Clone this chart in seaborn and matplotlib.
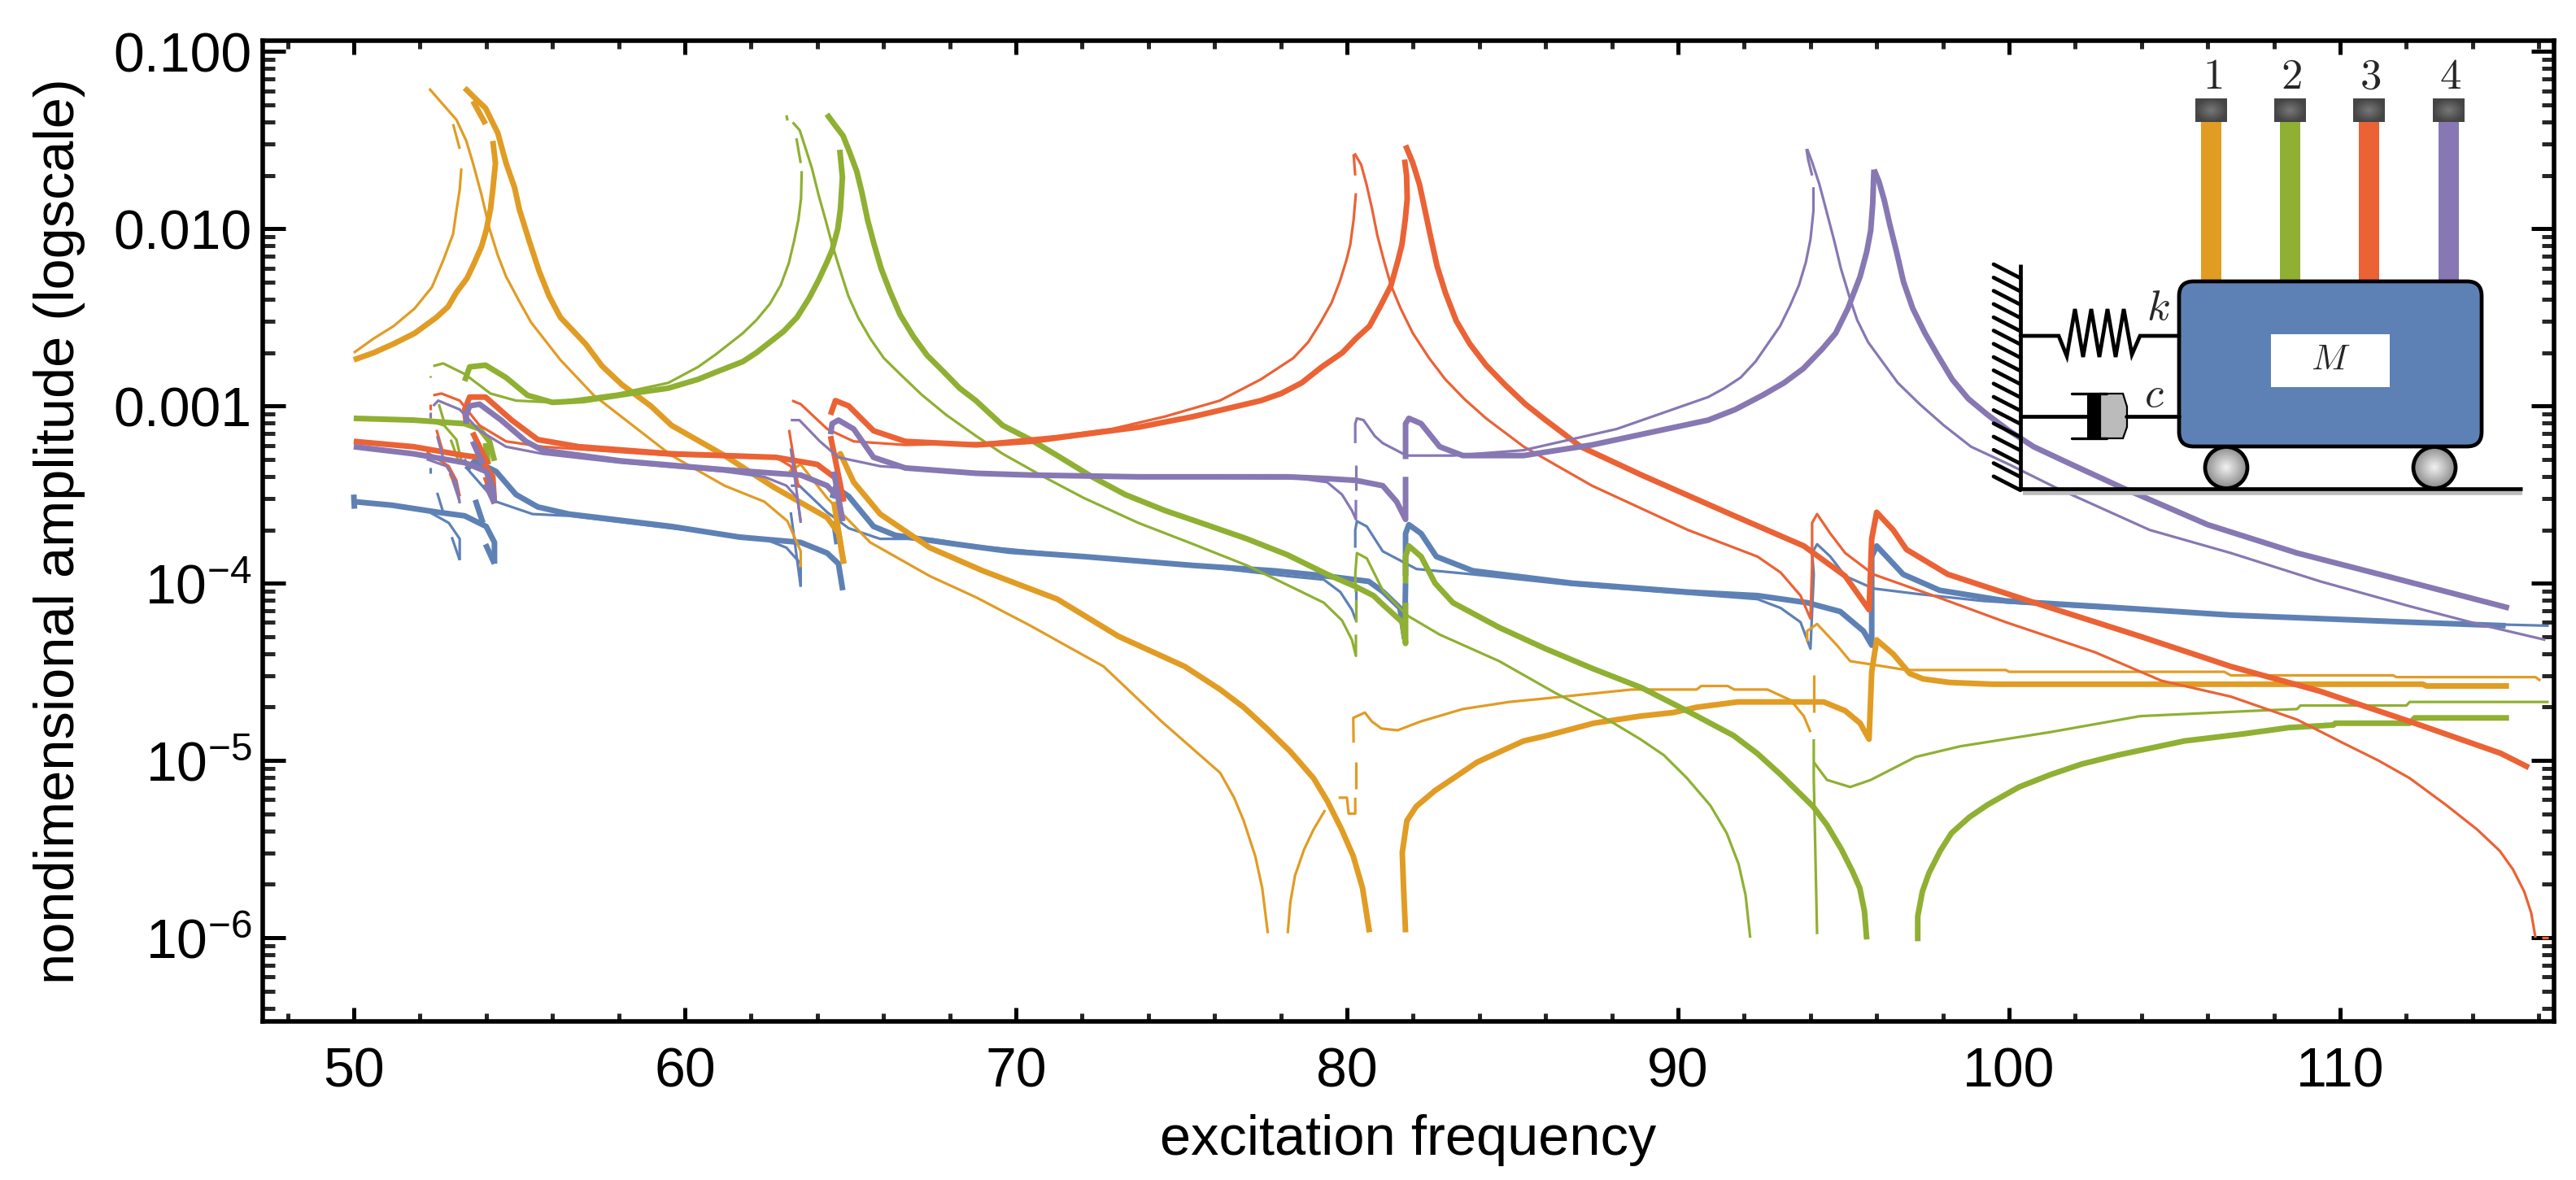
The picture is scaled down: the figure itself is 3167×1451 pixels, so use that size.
import matplotlib
matplotlib.use("Agg")
import matplotlib.pyplot as plt
import matplotlib.ticker as mticker
from matplotlib.patches import FancyBboxPatch, Ellipse, Rectangle, Polygon
import numpy as np
import pandas as pd
import seaborn as sns

# every curve is a list of (excitation frequency, log10 amplitude)

orange_thick_rise = [(50,-2.74),(50.6,-2.7),(51.2,-2.65),(51.84,-2.59),(52.5,-2.5),(52.85,-2.44),(53.1,-2.36),(53.42,-2.28),(53.6,-2.21),(53.86,-2.1),(54,-2.01),(54.13,-1.89),(54.2,-1.78),(54.28,-1.63),(54.2,-1.505)]
orange_thick_top = [(53.6,-1.28),(53.98,-1.41)]
orange_thick_fall = [(53.35,-1.206),(53.73,-1.276),(53.98,-1.32),(54.35,-1.46),(54.6,-1.63),(54.86,-1.77),(55,-1.89),(55.3,-2.07),(55.6,-2.24),(55.9,-2.38),(56.24,-2.5),(57,-2.65),(57.5,-2.775),(58.1,-2.88),(58.97,-3.0),(59.6,-3.11),(61.2,-3.28),(62.7,-3.46),(64.3,-3.63),(64.65,-3.72),(64.8,-3.89)]
orange_thick_jump = [(64.5,-3.54),(64.8,-3.89)]
orange_thick_fall2 = [(64.5,-3.3),(64.7,-3.27),(65.1,-3.43),(65.9,-3.61),(67.4,-3.8),(69,-3.93),(71.25,-4.09),(73.1,-4.3),(75.1,-4.47),(76.17,-4.6),(76.88,-4.7),(77.58,-4.82),(78.29,-4.95),(78.99,-5.1),(79.41,-5.23),(79.84,-5.39),(80.19,-5.54),(80.47,-5.72),(80.68,-5.97)]
orange_thick_rise2 = [(81.77,-5.97),(81.71,-5.72),(81.67,-5.52),(81.81,-5.34),(82.09,-5.26),(82.66,-5.17),(83.22,-5.1),(83.93,-5.01),(84.63,-4.95),(85.34,-4.89),(86.04,-4.86),(87.45,-4.79),(88.86,-4.75),(89.85,-4.73),(90.56,-4.7),(91.8,-4.67),(94.4,-4.67),(95.05,-4.72),(95.5,-4.79),(95.77,-4.88),(95.85,-4.5),(96,-4.32),(96.5,-4.4),(97,-4.51),(97.4,-4.54),(98.2,-4.56),(99.5,-4.57),(112.5,-4.57),(112.6,-4.58),(115.1,-4.58)]

orange_thin_rise = [(50,-2.7),(50.6,-2.62),(51.2,-2.55),(51.84,-2.45),(52.36,-2.33),(52.7,-2.18),(53,-2.03),(53.1,-1.9),(53.2,-1.78),(53.25,-1.66)]
orange_thin_top = [(53.2,-1.55),(53,-1.41)]
orange_thin_fall = [(52.28,-1.21),(52.7,-1.3),(53.1,-1.385),(53.4,-1.505),(53.6,-1.63),(53.86,-1.81),(54.1,-2),(54.35,-2.15),(54.6,-2.27),(55,-2.41),(55.36,-2.53),(56.24,-2.74),(57.25,-2.94),(59.6,-3.28),(61.2,-3.45),(62.4,-3.54),(63.1,-3.65),(63.5,-3.82),(63.5,-3.91)]
orange_thin_fall2 = [(63.15,-3.37),(63.5,-3.33),(64.3,-3.52),(65.6,-3.77),(67.4,-3.96),(68.8,-4.08),(70.44,-4.24),(72.65,-4.47),(74.4,-4.78),(76.17,-5.07),(76.59,-5.21),(76.88,-5.34),(77.23,-5.54),(77.44,-5.72),(77.61,-5.975)]
orange_thin_rise2 = [(78.21,-5.975),(78.29,-5.8),(78.43,-5.65),(78.71,-5.5),(78.99,-5.39),(79.34,-5.28)]
orange_thin_stub = [(79.75,-5.21),(80.0,-5.21),(80.05,-5.3),(80.25,-5.3),(80.25,-5.21)]
orange_thin_dash = [(80.27,-5.16),(80.27,-5.01)]
orange_thin_bump = [(80.2,-4.9),(80.19,-4.76),(80.54,-4.73),(80.75,-4.78),(81.04,-4.82),(81.53,-4.83),(82.23,-4.78),(83.5,-4.71),(84.9,-4.67),(86,-4.65),(88.6,-4.6),(90.56,-4.6),(90.7,-4.58),(91.5,-4.58),(91.7,-4.6),(92.7,-4.6),(93.4,-4.66),(93.8,-4.75),(94,-4.84)]
orange_thin_dash2 = [(94.1,-4.73),(94.1,-4.52)]
orange_thin_bump2 = [(93.9,-4.33),(93.9,-4.27),(94.2,-4.23),(94.8,-4.35),(95.2,-4.44),(95.9,-4.46),(96.9,-4.49),(99.9,-4.49),(100,-4.5),(106.5,-4.5),(106.7,-4.52),(111.6,-4.52),(111.7,-4.53),(115.9,-4.53),(116.05,-4.55)]

green_thick_flat = [(50,-3.07),(51.8,-3.08),(53.35,-3.1),(53.8,-3.13),(54.1,-3.2),(54.25,-3.31)]
green_thick_dash = [(53.98,-3.21),(54.06,-3.33)]
green_thick_bump = [(53.35,-2.86),(53.5,-2.78),(53.98,-2.77),(54.6,-2.84),(55.25,-2.94),(56,-2.98),(56.95,-2.97),(58.35,-2.93),(59.5,-2.9),(60.4,-2.85),(60.93,-2.81),(61.34,-2.78),(61.75,-2.75),(62.16,-2.7),(62.57,-2.64),(62.98,-2.58),(63.39,-2.5),(63.76,-2.39),(64.04,-2.29),(64.29,-2.19),(64.45,-2.12),(64.62,-2),(64.7,-1.89),(64.76,-1.71),(64.68,-1.555)]
green_thick_fall = [(64.29,-1.354),(64.53,-1.415),(64.78,-1.476),(64.98,-1.57),(65.19,-1.675),(65.35,-1.797),(65.52,-1.95),(65.72,-2.09),(65.93,-2.225),(66.21,-2.36),(66.5,-2.485),(66.91,-2.61),(67.32,-2.715),(67.81,-2.806),(68.3,-2.9),(68.79,-2.97),(69.6,-3.11),(70.44,-3.19),(71.25,-3.28),(72.3,-3.4),(73.3,-3.5),(74.5,-3.59),(75.75,-3.67),(76.98,-3.75),(78.2,-3.84),(79.4,-3.95),(80.27,-4.02),(80.8,-4.07),(81.08,-4.12),(81.67,-4.22),(81.77,-4.34),(81.77,-4.11)]
green_thick_fall2 = [(81.77,-4.0),(81.77,-3.85),(81.87,-3.79),(82.24,-3.85),(82.66,-4),(83.2,-4.11),(84.6,-4.25),(86,-4.37),(87.4,-4.48),(88.9,-4.59),(90.27,-4.72),(91.68,-4.86),(92.39,-4.96),(93.1,-5.08),(94.08,-5.26),(94.5,-5.365),(94.93,-5.5),(95.28,-5.63),(95.49,-5.72),(95.63,-5.85),(95.7,-6.01)]
green_thick_rise = [(97.24,-6.02),(97.24,-5.88),(97.38,-5.74),(97.58,-5.635),(97.92,-5.51),(98.26,-5.41),(98.8,-5.32),(99.35,-5.25),(100.3,-5.15),(101.25,-5.08),(102.2,-5.02),(103.28,-4.97),(105.3,-4.89),(107.08,-4.85),(108.44,-4.815),(109.8,-4.8),(109.85,-4.79),(112.1,-4.79),(112.25,-4.76),(115.1,-4.76)]

green_thin_flat = [(52.2,-3.08),(52.73,-3.11),(53.1,-3.19),(53.25,-3.31)]
green_thin_stub = [(52.3,-2.83),(52.3,-2.84)]
green_thin_dash = [(52.57,-2.99),(52.76,-3.11)]
green_thin_dash2 = [(52.93,-3.19),(53.2,-3.33)]
green_thin_bump = [(52.4,-2.775),(52.7,-2.76),(53.35,-2.82),(54.13,-2.93),(54.9,-2.97),(56,-2.98),(58,-2.93),(59.5,-2.87),(60.4,-2.78),(60.93,-2.71),(61.34,-2.65),(61.75,-2.59),(62.16,-2.516),(62.57,-2.424),(62.9,-2.317),(63.14,-2.195),(63.3,-2.07),(63.43,-1.95),(63.51,-1.83),(63.53,-1.675)]
green_thin_top = [(63.5,-1.63),(63.37,-1.49)]
green_thin_stub2 = [(63.07,-1.36),(63.1,-1.39)]
green_thin_fall = [(63.26,-1.4),(63.47,-1.445),(63.63,-1.537),(63.84,-1.66),(64.04,-1.81),(64.25,-1.95),(64.45,-2.09),(64.7,-2.24),(64.94,-2.38),(65.23,-2.5),(65.6,-2.62),(66.01,-2.73),(66.5,-2.82),(67.15,-2.936),(67.89,-3.05),(68.8,-3.17),(69.6,-3.27),(70.84,-3.4),(72.06,-3.52),(73.7,-3.66),(75.36,-3.78),(76.98,-3.9),(78.2,-4.01),(79.3,-4.11),(79.85,-4.21),(80.15,-4.32),(80.27,-4.41),(80.27,-4.29)]
green_thin_dash3 = [(80.27,-4.22),(80.27,-4.09)]
green_thin_fall2 = [(80.27,-4.05),(80.25,-3.95),(80.3,-3.83),(80.6,-3.86),(81.08,-4.04),(81.8,-4.18),(82.8,-4.29),(84.6,-4.44),(86.3,-4.62),(87.88,-4.77),(88.86,-4.88),(89.57,-4.97),(90.27,-5.1),(90.98,-5.255),(91.47,-5.41),(91.83,-5.585),(92.04,-5.76),(92.18,-6)]
green_thin_spike = [(94.2,-5.98),(94.1,-5.1),(94.1,-4.88)]
green_thin_rise = [(94.1,-5.01),(94.5,-5.11),(95.2,-5.15),(95.82,-5.11),(97.18,-4.98),(98.53,-4.92),(101.25,-4.84),(103.96,-4.75),(107.4,-4.72),(108.7,-4.71),(108.8,-4.69),(112,-4.69),(112.1,-4.67),(116.3,-4.67)]

red_thick_flat = [(50,-3.2),(51.8,-3.23),(53.35,-3.28),(53.8,-3.29),(54.2,-3.4),(54.25,-3.55)]
red_thick_dash = [(53.59,-3.15),(54.06,-3.33)]
red_thick_dash2 = [(53.98,-3.4),(54.25,-3.55)]
red_thick_bump = [(53.4,-3.1),(53.35,-3.02),(53.5,-2.95),(53.98,-2.95),(54.77,-3.08),(55.56,-3.19),(56.8,-3.23),(59.6,-3.27),(62.75,-3.29),(64,-3.33),(64.64,-3.42),(64.77,-3.54)]
red_thick_dash3 = [(64.4,-3.17),(64.8,-3.54)]
red_thick_bump2 = [(64.4,-3.05),(64.55,-2.97),(64.95,-3),(65.7,-3.14),(66.66,-3.2),(68.8,-3.22),(70.44,-3.2),(72.06,-3.16),(73.7,-3.12),(75.36,-3.06),(77.4,-2.97),(78.01,-2.93),(78.63,-2.87),(79.24,-2.78),(79.86,-2.7),(80.27,-2.62),(80.68,-2.55),(81,-2.44),(81.33,-2.32),(81.54,-2.18),(81.66,-2.09),(81.76,-1.95),(81.82,-1.83),(81.8,-1.7),(81.74,-1.61)]
red_thick_fall = [(81.77,-1.53),(81.99,-1.63),(82.19,-1.75),(82.35,-1.89),(82.52,-2.04),(82.72,-2.21),(82.97,-2.36),(83.3,-2.52),(83.71,-2.65),(84.2,-2.77),(84.77,-2.88),(85.39,-2.99),(86,-3.08),(86.57,-3.16),(87.06,-3.23),(88.9,-3.39),(91.7,-3.62),(93.8,-3.79),(95.05,-3.96),(95.77,-4.15),(95.85,-3.75),(96,-3.6),(96.5,-3.7),(96.9,-3.81),(98.15,-3.95),(100.6,-4.1),(103.96,-4.3),(106.7,-4.47),(109.4,-4.61),(112.1,-4.78),(114.85,-4.96),(115.7,-5.04)]

red_thin_flat = [(52.2,-3.26),(52.87,-3.34),(53.1,-3.42),(53.2,-3.51)]
red_thin_stub = [(52.3,-2.99),(52.3,-3.02)]
red_thin_dash = [(52.5,-3.135),(52.7,-3.265)]
red_thin_dash2 = [(52.9,-3.38),(53.2,-3.51)]
red_thin_bump = [(52.4,-2.94),(52.65,-2.93),(53.2,-2.97),(53.8,-3.11),(54.6,-3.2),(55.7,-3.23),(59.6,-3.28),(62.75,-3.29),(63.2,-3.34),(63.46,-3.46)]
red_thin_dash3 = [(63.15,-3.135),(63.43,-3.46)]
red_thin_bump2 = [(63.24,-2.97),(63.5,-2.99),(64.3,-3.13),(65.1,-3.2),(66.66,-3.22),(69,-3.21),(71.25,-3.17),(72.9,-3.13),(74.5,-3.06),(76.16,-2.97),(77.4,-2.85),(77.89,-2.79),(78.38,-2.73),(78.83,-2.64),(79.2,-2.53),(79.53,-2.42),(79.78,-2.3),(79.98,-2.18),(80.1,-2.09),(80.2,-1.95),(80.27,-1.8)]
red_thin_top = [(80.25,-1.7),(80.2,-1.58)]
red_thin_fall = [(80.23,-1.575),(80.43,-1.64),(80.59,-1.75),(80.76,-1.89),(80.92,-2.04),(81.13,-2.19),(81.33,-2.32),(81.62,-2.45),(81.99,-2.59),(82.48,-2.73),(82.97,-2.85),(83.54,-2.96),(84.2,-3.07),(84.77,-3.15),(85.34,-3.23),(87.4,-3.45),(90.3,-3.7),(92.4,-3.85),(93.1,-3.94),(93.7,-4.07),(94,-4.2),(94.05,-3.9),(94.05,-3.66),(94.2,-3.61),(94.6,-3.72),(95.05,-3.83),(95.9,-3.95),(97.86,-4.08),(99.9,-4.22),(102.6,-4.39),(104.6,-4.55),(106.7,-4.64),(108.7,-4.77),(110.07,-4.9),(111.15,-5),(112.1,-5.1),(113.19,-5.25),(114.14,-5.39),(114.82,-5.51),(115.22,-5.615),(115.56,-5.74),(115.77,-5.86),(115.9,-6)]
red_thin_stub2 = [(116.1,-6),(116.3,-6)]

purple_thick_flat = [(50,-3.23),(51.8,-3.27),(53.35,-3.32),(54,-3.37),(54.2,-3.46),(54.25,-3.55)]
purple_thick_dash = [(53.59,-3.2),(53.9,-3.33)]
purple_thick_dash2 = [(53.98,-3.44),(54.25,-3.55)]
purple_thick_bump = [(53.4,-3.1),(53.4,-3.05),(53.5,-3),(53.8,-2.99),(54.45,-3.08),(55.2,-3.2),(55.7,-3.25),(58.06,-3.31),(61.2,-3.36),(63.5,-3.39),(64.3,-3.45),(64.64,-3.52),(64.77,-3.65)]
purple_thick_dash3 = [(64.5,-3.37),(64.76,-3.65)]
purple_thick_bump2 = [(64.4,-3.16),(64.45,-3.1),(64.64,-3.08),(65.1,-3.13),(65.7,-3.29),(66.66,-3.35),(68.8,-3.38),(70.44,-3.39),(73.7,-3.4),(78.2,-3.4),(79.4,-3.41),(80.27,-3.42),(81.08,-3.45),(81.5,-3.54),(81.77,-3.64),(81.77,-3.4)]
purple_thick_bump3 = [(81.77,-3.3),(81.77,-3.1),(81.87,-3.07),(82.24,-3.1),(82.8,-3.23),(83.5,-3.28),(85.33,-3.28),(87.4,-3.22),(90.91,-3.08),(91.73,-3.02),(92.55,-2.94),(93.2,-2.87),(93.78,-2.79),(94.35,-2.68),(94.76,-2.59),(95.13,-2.45),(95.5,-2.27),(95.7,-2.13),(95.82,-2.01),(95.88,-1.86),(95.91,-1.705),(95.92,-1.667)]
purple_thick_fall = [(95.92,-1.667),(96.07,-1.735),(96.23,-1.84),(96.4,-1.98),(96.6,-2.13),(96.81,-2.3),(97.09,-2.45),(97.46,-2.59),(97.83,-2.71),(98.28,-2.85),(98.77,-2.96),(99.35,-3.05),(100,-3.14),(100.74,-3.23),(102,-3.34),(103.4,-3.46),(106,-3.67),(108.7,-3.83),(111.4,-3.96),(115.1,-4.14)]

purple_thin_flat = [(52.2,-3.3),(52.8,-3.34),(53.1,-3.43),(53.2,-3.55)]
purple_thin_stub = [(52.3,-3.035),(52.3,-3.07)]
purple_thin_dash = [(52.52,-3.17),(52.7,-3.295)]
purple_thin_dash2 = [(52.99,-3.42),(53.2,-3.54)]
purple_thin_bump = [(52.4,-3),(52.55,-2.97),(53.2,-3.02),(53.8,-3.14),(54.6,-3.23),(55.7,-3.27),(58.06,-3.32),(61.2,-3.37),(62.4,-3.4),(63.07,-3.45),(63.4,-3.52),(63.5,-3.66)]
purple_thin_dash3 = [(63.2,-3.24),(63.5,-3.65)]
purple_thin_bump2 = [(63.2,-3.08),(63.46,-3.08),(64.08,-3.2),(64.64,-3.29),(65.9,-3.34),(67.4,-3.36),(70.44,-3.39),(73.7,-3.4),(78.6,-3.41),(79.4,-3.43),(79.85,-3.5),(80.15,-3.59),(80.27,-3.64),(80.27,-3.53)]
purple_thin_dash4 = [(80.27,-3.478),(80.27,-3.335)]
purple_thin_bump3 = [(80.25,-3.21),(80.25,-3.1),(80.3,-3.07),(80.5,-3.08),(80.84,-3.17),(81.08,-3.21),(81.8,-3.28),(83.2,-3.28),(85.33,-3.25),(88.15,-3.13),(90.91,-2.95),(91.4,-2.9),(91.89,-2.84),(92.34,-2.75),(92.71,-2.65),(93.08,-2.55),(93.37,-2.44),(93.65,-2.32),(93.86,-2.19),(94,-2.06),(94.09,-1.9),(94.09,-1.766)]
purple_thin_top = [(94.05,-1.7),(93.93,-1.61),(93.88,-1.55)]
purple_thin_fall = [(93.9,-1.55),(94.06,-1.63),(94.27,-1.75),(94.51,-1.92),(94.72,-2.07),(94.92,-2.225),(95.17,-2.38),(95.41,-2.515),(95.74,-2.64),(96.15,-2.745),(96.64,-2.87),(97.3,-2.99),(98.03,-3.11),(98.85,-3.23),(100,-3.33),(101.4,-3.46),(104.25,-3.7),(106.7,-3.83),(109.4,-3.99),(112.1,-4.13),(114.15,-4.23),(116.2,-4.32)]

blue_thick_flat = [(50,-3.54),(51.15,-3.56),(52.55,-3.6),(53.35,-3.62),(54,-3.68),(54.25,-3.77),(54.25,-3.89)]
blue_thick_tip = [(50,-3.5),(50.02,-3.58)]
blue_thick_dash = [(53.67,-3.53),(53.9,-3.66)]
blue_thick_dash2 = [(53.98,-3.78),(54.25,-3.89)]
blue_thick_bump = [(53.4,-3.36),(53.66,-3.31),(54.3,-3.37),(54.9,-3.5),(55.56,-3.57),(56.5,-3.61),(59.6,-3.68),(61.65,-3.74),(63.5,-3.77),(64.3,-3.83),(64.64,-3.89),(64.77,-4.04)]
blue_thick_dash3 = [(64.5,-3.65),(64.6,-3.78)]
blue_thick_bump2 = [(64.45,-3.52),(64.55,-3.46),(64.95,-3.51),(65.7,-3.68),(66.36,-3.73),(68.2,-3.78),(69.8,-3.82),(72.06,-3.85),(75.36,-3.9),(77.8,-3.93),(79.4,-3.96),(80.66,-3.99),(81.1,-4.05),(81.6,-4.14),(81.74,-4.31),(81.77,-4)]
blue_thick_bump3 = [(81.77,-3.96),(81.77,-3.72),(81.87,-3.67),(82.24,-3.72),(82.7,-3.85),(83.8,-3.93),(86.8,-4),(90.3,-4.05),(92.4,-4.07),(93.9,-4.11),(94.9,-4.16),(95.6,-4.27),(95.85,-4.35),(95.85,-3.85),(96,-3.79),(96.5,-3.89),(96.8,-3.95),(97.9,-4.04),(99.9,-4.1),(102.6,-4.13),(106.7,-4.18),(112.1,-4.22),(115,-4.24)]

blue_thin_flat = [(52.2,-3.59),(52.87,-3.66),(53.2,-3.75),(53.2,-3.87)]
blue_thin_stub = [(52.3,-3.35),(52.3,-3.38)]
blue_thin_dash = [(52.52,-3.49),(52.7,-3.6)]
blue_thin_dash2 = [(52.96,-3.74),(53.2,-3.87)]
blue_thin_bump = [(53.35,-3.3),(53.5,-3.37),(54.3,-3.54),(55.4,-3.61),(56.5,-3.62),(59.6,-3.69),(62.4,-3.75),(63.07,-3.8),(63.5,-3.89),(63.5,-4.02)]
blue_thin_dash3 = [(63.2,-3.6),(63.5,-4.02)]
blue_thin_bump2 = [(63.2,-3.45),(63.46,-3.45),(64.3,-3.6),(64.95,-3.69),(65.9,-3.75),(67.4,-3.75),(68.8,-3.79),(72.06,-3.85),(75.36,-3.9),(78.2,-3.96),(79.3,-3.98),(79.8,-4.05),(80.15,-4.15),(80.27,-4.21)]
blue_thin_dash4 = [(80.27,-4.03),(80.27,-4.135)]
blue_thin_bump3 = [(80.25,-3.8),(80.25,-3.7),(80.3,-3.65),(80.6,-3.68),(81.08,-3.82),(82.1,-3.92),(83.8,-3.95),(86.8,-4.01),(90.3,-4.06),(92.4,-4.09),(93.1,-4.14),(93.7,-4.22),(94,-4.37),(94.1,-3.95),(94.05,-3.83),(94.2,-3.78),(94.6,-3.85),(95.05,-3.96),(95.9,-4.03),(97.2,-4.06),(99.2,-4.1),(102.6,-4.14),(106.7,-4.18),(112.1,-4.22),(116.3,-4.24)]

curves_blue = [blue_thick_flat, blue_thick_tip, blue_thick_dash, blue_thick_dash2, blue_thick_bump, blue_thick_dash3, blue_thick_bump2, blue_thick_bump3]
thin_blue = [blue_thin_flat, blue_thin_stub, blue_thin_dash, blue_thin_dash2, blue_thin_bump, blue_thin_dash3, blue_thin_bump2, blue_thin_dash4, blue_thin_bump3]
curves_orange = [orange_thick_rise, orange_thick_top, orange_thick_fall, orange_thick_jump, orange_thick_fall2, orange_thick_rise2]
thin_orange = [orange_thin_rise, orange_thin_top, orange_thin_fall, orange_thin_fall2, orange_thin_rise2, orange_thin_stub, orange_thin_dash, orange_thin_bump, orange_thin_dash2, orange_thin_bump2]
curves_green = [green_thick_flat, green_thick_dash, green_thick_bump, green_thick_fall, green_thick_fall2, green_thick_rise]
thin_green = [green_thin_flat, green_thin_stub, green_thin_dash, green_thin_dash2, green_thin_bump, green_thin_top, green_thin_stub2, green_thin_fall, green_thin_dash3, green_thin_fall2, green_thin_spike, green_thin_rise]
curves_red = [red_thick_flat, red_thick_dash, red_thick_dash2, red_thick_bump, red_thick_dash3, red_thick_bump2, red_thick_fall]
thin_red = [red_thin_flat, red_thin_stub, red_thin_dash, red_thin_dash2, red_thin_bump, red_thin_dash3, red_thin_bump2, red_thin_top, red_thin_fall, red_thin_stub2]
curves_purple = [purple_thick_flat, purple_thick_dash, purple_thick_dash2, purple_thick_bump, purple_thick_dash3, purple_thick_bump2, purple_thick_bump3, purple_thick_fall]
thin_purple = [purple_thin_flat, purple_thin_stub, purple_thin_dash, purple_thin_dash2, purple_thin_bump, purple_thin_dash3, purple_thin_bump2, purple_thin_dash4, purple_thin_bump3, purple_thin_top, purple_thin_fall]

BLUE = "#5E81B5"
ORANGE = "#E19C24"
GREEN = "#8FB032"
RED = "#EB6235"
PURPLE = "#8778B3"

series = [
	(BLUE, curves_blue, thin_blue),
	(ORANGE, curves_orange, thin_orange),
	(GREEN, curves_green, thin_green),
	(RED, curves_red, thin_red),
	(PURPLE, curves_purple, thin_purple),
]

rod_colors = [ORANGE, GREEN, RED, PURPLE]
rod_labels = ["1", "2", "3", "4"]
xtick_values = [50, 60, 70, 80, 90, 100, 110]
ytick_values = [1e-6, 1e-5, 1e-4, 1e-3, 1e-2, 1e-1]
ytick_labels = ["$10^{-6}$", "$10^{-5}$", "$10^{-4}$", "0.001", "0.010", "0.100"]

W, H = 3167, 1451
DPI = 200
FONT = 24.5
THICK = 2.5
THIN = 1.15

def segments_frame(segments):
	rows = []
	for i, seg in enumerate(segments):
		for f, lg in seg:
			rows.append((i, f, 10.0 ** lg))
	return pd.DataFrame(rows, columns=["segment", "frequency", "amplitude"])

def draw_curves(ax):
	for color, thick, thin in series:
		for segs, width in ((thin, THIN), (thick, THICK)):
			sns.lineplot(data=segments_frame(segs), x="frequency", y="amplitude", units="segment",
				estimator=None, sort=False, color=color, linewidth=width, legend=False, ax=ax,
				solid_joinstyle="round", solid_capstyle="butt")

def gradient_patch(over, cx, cy, w, h, inner, outer, clip):
	# radial grey shading, clipped by the given patch
	yy, xx = np.mgrid[-1:1:60j, -1:1:60j]
	r = np.clip(np.hypot(xx, yy), 0, 1)
	shade = inner + (outer - inner) * r
	im = over.imshow(shade, cmap="gray", vmin=0, vmax=1, aspect="auto", interpolation="bilinear",
		extent=[cx - w / 2, cx + w / 2, cy + h / 2, cy - h / 2], zorder=3)
	if clip is not None:
		over.add_patch(clip)
		im.set_clip_path(clip)

def draw_inset(fig):
	over = fig.add_axes([0, 0, 1, 1], facecolor="none")
	over.set_axis_off()
	ln = 1.7

	# rods, caps and their numbers
	rod_x = [2718, 2815, 2912, 3010]
	for x, c, lab in zip(rod_x, rod_colors, rod_labels):
		over.add_patch(Rectangle((x - 12.5, 149), 25, 200, facecolor=c, edgecolor="none", zorder=2))
		gradient_patch(over, x, 135.5, 39, 29, 0.47, 0.27, None)
		over.text(x + 2, 95, r"$\mathrm{" + lab + "}$", ha="center", va="center", fontsize=19, math_fontfamily="cm", zorder=5)

	# cart body
	over.add_patch(FancyBboxPatch((2679, 346), 372, 203, boxstyle="round,pad=0,rounding_size=18",
		facecolor=BLUE, edgecolor="black", linewidth=ln, zorder=3))
	over.add_patch(Rectangle((2792, 411), 146, 64.5, facecolor="white", edgecolor="none", zorder=4))
	over.text(2865, 443, r"$\mathit{M}$", ha="center", va="center", fontsize=16, math_fontfamily="cm", zorder=5)

	# wheels
	for cx in (2737, 2993):
		clip = Ellipse((cx, 575), 52, 51, facecolor="none", edgecolor="none", transform=over.transData)
		gradient_patch(over, cx, 575, 52, 51, 0.95, 0.55, clip)
		over.add_patch(Ellipse((cx, 575), 52, 51, facecolor="none", edgecolor="black", linewidth=ln, zorder=4))

	# ground and wall
	over.plot([2487, 3101], [606, 606], color="#bbbbbb", lw=2, zorder=1, solid_capstyle="butt")
	over.plot([2484, 3101], [601, 601], color="black", lw=ln, zorder=4, solid_capstyle="butt")
	over.plot([2484, 2484], [325, 601], color="black", lw=ln, zorder=4, solid_capstyle="butt")
	for y in np.arange(325, 590, 16.3):
		over.plot([2451, 2484], [y, y + 17], color="black", lw=ln, zorder=4)

	# spring
	sx = [2484, 2531, 2541, 2551, 2561, 2571, 2581, 2591, 2601, 2611, 2621, 2631, 2679]
	sy = [413, 413, 438, 380, 439, 380, 439, 380, 439, 380, 436, 413, 413]
	over.plot(sx, sy, color="black", lw=ln, zorder=4, solid_joinstyle="miter")
	over.text(2653, 379, r"$\mathit{k}$", ha="center", va="center", fontsize=19, math_fontfamily="cm", zorder=5)

	# damper
	over.plot([2484, 2566], [511.5, 511.5], color="black", lw=ln, zorder=4)
	over.plot([2614, 2679], [511.5, 511.5], color="black", lw=ln, zorder=4)
	over.add_patch(Polygon([(2582, 484), (2610, 484), (2615, 500), (2615, 525), (2610, 539), (2582, 539)],
		facecolor="#bbbbbb", edgecolor="black", linewidth=0.8, zorder=3))
	over.add_patch(Rectangle((2566, 484), 16, 55, facecolor="black", edgecolor="none", zorder=4))
	over.plot([2547, 2590], [484, 484], color="black", lw=1.2, zorder=4)
	over.plot([2547, 2590], [539, 539], color="black", lw=1.2, zorder=4)
	over.text(2648, 486, r"$\mathit{c}$", ha="center", va="center", fontsize=19, math_fontfamily="cm", zorder=5)

	over.set_xlim(0, W)
	over.set_ylim(H, 0)

def main():
	sns.set_theme(style="ticks")
	plt.rcParams["font.family"] = ["Liberation Sans", "DejaVu Sans"]
	plt.rcParams["mathtext.fontset"] = "custom"
	plt.rcParams["mathtext.rm"] = "Liberation Sans"
	plt.rcParams["mathtext.default"] = "regular"
	plt.rcParams["axes.edgecolor"] = "black"

	fig = plt.figure(figsize=(W / DPI, H / DPI), dpi=DPI)
	ax = fig.add_axes([323 / W, 1 - 1256 / H, (3140 - 323) / W, (1256 - 50) / H])

	draw_curves(ax)

	ax.set_yscale("log")
	ax.set_xlim(47.25, 116.46)
	ax.set_ylim(3.37e-7, 0.115)

	ax.set_xticks(xtick_values)
	ax.xaxis.set_minor_locator(mticker.MultipleLocator(2))
	ax.yaxis.set_major_locator(mticker.FixedLocator(ytick_values))
	ax.yaxis.set_major_formatter(mticker.FixedFormatter(ytick_labels))
	ax.yaxis.set_minor_locator(mticker.LogLocator(base=10, subs=range(2, 10), numticks=20))
	ax.yaxis.set_minor_formatter(mticker.NullFormatter())

	ax.tick_params(axis="x", which="major", direction="in", top=True, bottom=True, length=6, width=1.8, labelsize=FONT, pad=11, color="black", labelcolor="black")
	ax.tick_params(axis="x", which="minor", direction="in", top=True, bottom=True, length=3.5, width=1.8)
	ax.tick_params(axis="y", which="major", direction="in", left=True, right=True, length=10, width=1.8, labelsize=FONT, pad=5, color="black", labelcolor="black")
	ax.tick_params(axis="y", which="minor", direction="in", left=True, right=True, length=5.5, width=1.8)

	for spine in ax.spines.values():
		spine.set_visible(True)
		spine.set_linewidth(2)
		spine.set_color("black")

	ax.set_xlabel("excitation frequency", fontsize=24.7, color="black", labelpad=7)
	ax.set_ylabel("nondimensional amplitude (logscale)", fontsize=24.7, color="black")
	ax.yaxis.set_label_coords(-0.0775, 0.5)

	draw_inset(fig)
	fig.savefig("out.png", dpi=DPI)

if __name__ == "__main__":
	main()
